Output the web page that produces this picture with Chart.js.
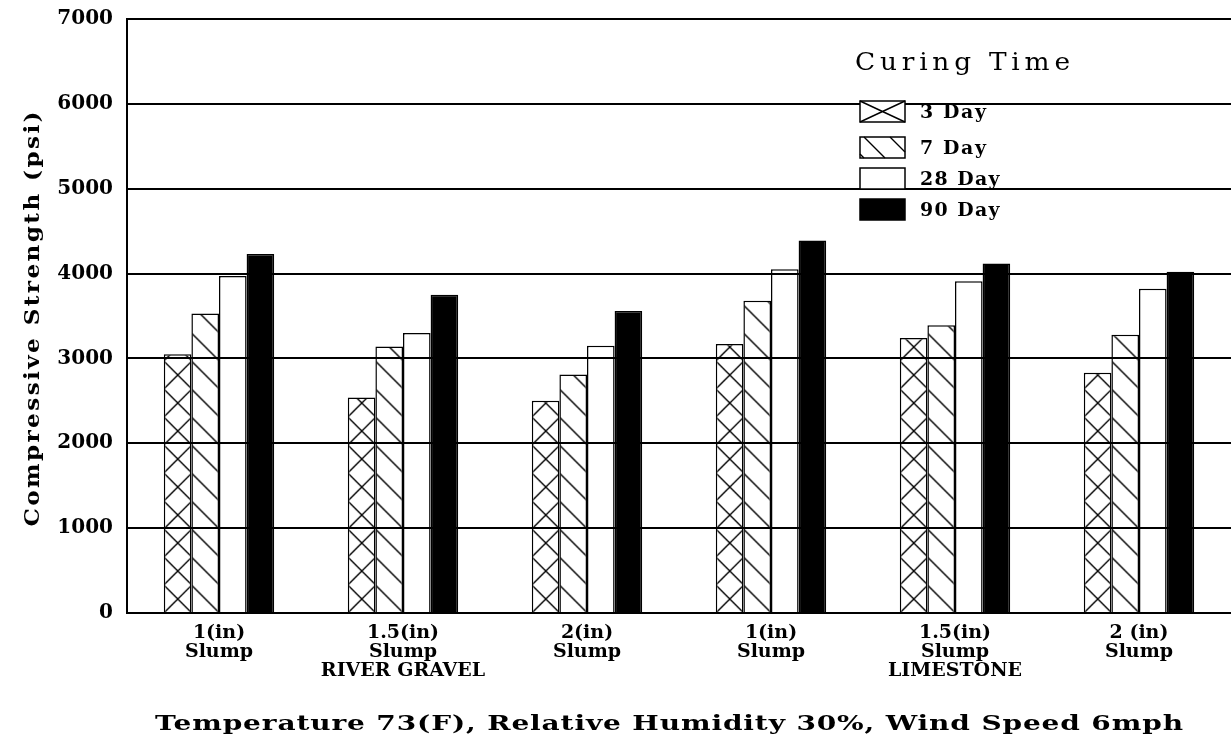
<!DOCTYPE html>
<html>
<head>
<meta charset="utf-8">
<title>Compressive Strength by Slump</title>
<script src="https://cdn.jsdelivr.net/npm/chart.js@4.4.1/dist/chart.umd.min.js"></script>
<style>
  html, body { margin: 0; padding: 0; background: #fff; }
  #wrap { width: 1231px; height: 746px; }
</style>
</head>
<body>
<div id="wrap"><canvas id="chart" width="1231" height="746"></canvas></div>
<script>
// ======= DATA =======
const categories = [
  ['1(in)', 'Slump'],
  ['1.5(in)', 'Slump', 'RIVER GRAVEL'],
  ['2(in)', 'Slump'],
  ['1(in)', 'Slump'],
  ['1.5(in)', 'Slump', 'LIMESTONE'],
  ['2 (in)', 'Slump']
];
const seriesNames = ['3 Day', '7 Day', '28 Day', '90 Day'];
const day3  = [3050, 2540, 2500, 3170, 3240, 2830];
const day7  = [3530, 3140, 2810, 3680, 3390, 3280];
const day28 = [3970, 3300, 3150, 4050, 3910, 3820];
const day90 = [4230, 3750, 3560, 4390, 4120, 4020];
const yTicks = [0, 1000, 2000, 3000, 4000, 5000, 6000, 7000];

const legendTitle = 'Curing Time';
const yTitle = 'Compressive Strength (psi)';
const caption = 'Temperature 73(F), Relative Humidity 30%, Wind Speed 6mph';

// ======= LOOK =======
const FONT = "'DejaVu Serif', serif";
const CAT_PCT = 0.6;   // share of each category taken by the 4 bars

// ======= HATCH PATTERNS =======
const tiles = {};
function makeTile(kind, size) {
  const c = document.createElement('canvas');
  c.width = size; c.height = size;
  const g = c.getContext('2d');
  g.fillStyle = '#fff';
  g.fillRect(0, 0, size, size);
  g.strokeStyle = '#000';
  g.lineWidth = 1.4;
  g.beginPath();
  g.moveTo(-2, -2); g.lineTo(size + 2, size + 2);          // "\"
  if (kind === 'cross') { g.moveTo(size + 2, -2); g.lineTo(-2, size + 2); } // "/"
  g.stroke();
  return c;
}
function getTile(kind, size) {
  const key = kind + size;
  if (!tiles[key]) tiles[key] = makeTile(kind, size);
  return tiles[key];
}

// scriptable fill so each bar's hatch starts at its own left edge
function hatchFill(kind) {
  return (ctx) => {
    const chart = ctx.chart;
    const xs = chart.scales.x, ys = chart.scales.y;
    if (!xs || !ys || !(xs.width > 0) || ctx.dataIndex === undefined) return '#fff';
    const catW = xs.width / categories.length;
    const barW = catW * CAT_PCT / seriesNames.length;
    const size = Math.max(4, Math.round(barW));
    const pat = chart.ctx.createPattern(getTile(kind, size), 'repeat');
    const left = xs.getPixelForValue(ctx.dataIndex) - catW * CAT_PCT / 2 + ctx.datasetIndex * barW;
    pat.setTransform(new DOMMatrix().translate(left, ys.bottom));
    return pat;
  };
}

// ======= TEXT HELPER =======
// typewriter look: glyphs widened by hs, then spaced out to fill `width`
function spacedText(c, text, x, y, font, width, align, hs) {
  hs = hs || 1;
  c.save();
  c.font = font;
  c.letterSpacing = '0px';
  const w = c.measureText(text).width;
  const sp = Math.max(0, (width / hs - w) / (text.length - 1));
  let x0 = x;
  if (align === 'center') x0 = x - width / 2;
  c.translate(x0, y);
  c.scale(hs, 1);
  c.letterSpacing = sp + 'px';
  c.textAlign = 'left';
  c.fillText(text, 0, 0);
  c.restore();
}

// ======= CUSTOM TEXT + LEGEND PLUGIN =======
const paperText = {
  id: 'paperText',
  afterDraw(chart) {
    const c = chart.ctx;
    c.save();
    c.fillStyle = '#000';
    c.textBaseline = 'alphabetic';

    // y axis title (rotated)
    c.save();
    c.translate(39, 319);
    c.rotate(-Math.PI / 2);
    spacedText(c, yTitle, 0, 0, `bold 21px ${FONT}`, 415, 'center', 1.1);
    c.restore();

    // bottom caption
    spacedText(c, caption, 155, 730, `bold 20px ${FONT}`, 1028, 'left', 1.4);

    // legend title
    spacedText(c, legendTitle, 855, 70, `24px ${FONT}`, 215, 'left', 1.1);

    // legend entries
    const tops = [101, 137, 168, 199];
    const kinds = ['cross', 'hatch', 'white', 'black'];
    const bx = 860, bw = 45, bh = 21;
    seriesNames.forEach((name, i) => {
      const y = tops[i];
      if (kinds[i] === 'black') {
        c.fillStyle = '#000';
        c.fillRect(bx, y, bw, bh);
      } else {
        c.fillStyle = '#fff';
        c.fillRect(bx, y, bw, bh);
        c.strokeStyle = '#000';
        c.lineWidth = 1.4;
        c.beginPath();
        if (kinds[i] === 'cross') {
          c.moveTo(bx, y); c.lineTo(bx + bw, y + bh);
          c.moveTo(bx + bw, y); c.lineTo(bx, y + bh);
        } else if (kinds[i] === 'hatch') {
          c.moveTo(bx + 4, y); c.lineTo(bx + 4 + bh, y + bh);
          c.moveTo(bx + 30, y); c.lineTo(bx + bw, y + bw - 30);
          c.moveTo(bx, y + bh - 4); c.lineTo(bx + 4, y + bh);
        }
        c.stroke();
      }
      c.strokeStyle = '#000';
      c.lineWidth = 1.5;
      c.strokeRect(bx, y, bw, bh);
      c.fillStyle = '#000';
      spacedText(c, name, 920, y + bh / 2 + 6, `bold 18px ${FONT}`, name.length * 13.6 - 2, 'left', 1.05);
    });
    c.restore();
  }
};

// ======= CHART =======
const tickFont = { family: FONT, size: 19, weight: 'bold', lineHeight: 1.0 };

new Chart(document.getElementById('chart').getContext('2d'), {
  type: 'bar',
  data: {
    labels: categories,
    datasets: [
      { label: seriesNames[0], data: day3,  backgroundColor: hatchFill('cross') },
      { label: seriesNames[1], data: day7,  backgroundColor: hatchFill('hatch') },
      { label: seriesNames[2], data: day28, backgroundColor: '#ffffff' },
      { label: seriesNames[3], data: day90, backgroundColor: '#000000' }
    ].map(ds => Object.assign(ds, {
      borderColor: '#000',
      borderWidth: 1.5,
      categoryPercentage: CAT_PCT,
      barPercentage: 1.0
    }))
  },
  options: {
    responsive: false,
    animation: false,
    events: [],
    layout: { padding: { top: 19, right: 0, bottom: 0, left: 0 } },
    plugins: {
      legend: { display: false },
      tooltip: { enabled: false },
      title: { display: false }
    },
    scales: {
      x: {
        grid: { display: false },
        border: { display: false },
        ticks: {
          color: '#000',
          font: tickFont,
          padding: 3,
          maxRotation: 0,
          autoSkip: false
        },
        afterFit: s => { s.height = 133; }
      },
      y: {
        min: yTicks[0],
        max: yTicks[yTicks.length - 1],
        ticks: {
          stepSize: yTicks[1] - yTicks[0],
          color: '#000',
          font: { family: FONT, size: 20, weight: 'bold' },
          padding: 14,
          callback: v => String(v)
        },
        grid: { color: '#000', lineWidth: 2, drawTicks: false, z: 1 },
        border: { color: '#000', width: 2, z: 1 },
        afterFit: s => { s.width = 127; s.paddingTop = 0; s.paddingBottom = 0; }
      }
    }
  },
  plugins: [paperText]
});
</script>
</body>
</html>
